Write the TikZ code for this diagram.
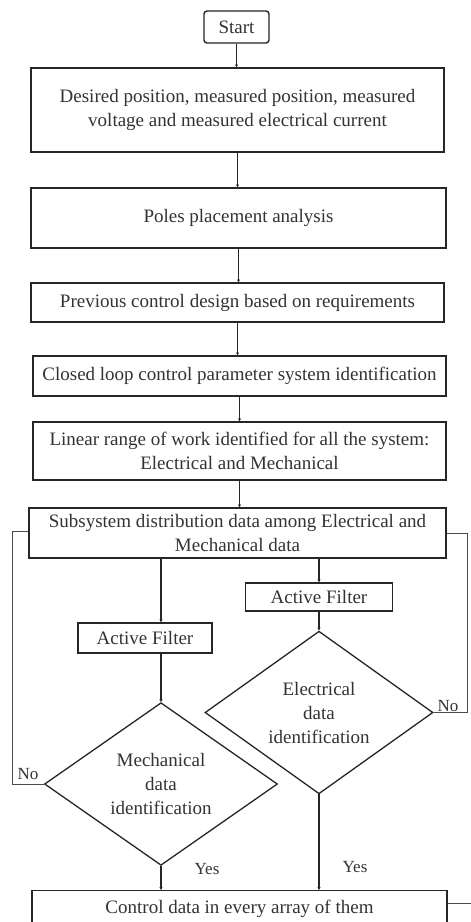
\documentclass[tikz,border=0pt]{standalone}
\usepackage{fontspec}
\setmainfont{Liberation Serif}
\usetikzlibrary{shapes.geometric,arrows.meta,calc}
\begin{document}
\begin{tikzpicture}[x=1pt,y=-1pt,
  every node/.style={font=\fontsize{19}{24}\selectfont, text=black!80},
  box/.style={draw=black!85, line width=1.4pt, inner sep=0pt, align=center},
  dec/.style={draw=black!85, line width=1.3pt, diamond, inner sep=0pt, align=center},
  arr/.style={draw=black!85, line width=1.3pt, -{Stealth[length=3pt,width=3pt]}},
  loopline/.style={draw=black!70, line width=0.8pt},
  lbl/.style={font=\fontsize{17}{20}\selectfont}]
\useasboundingbox (0,0) rectangle (471,922);
\fill[white] (0,0) rectangle (471,922);
\node[box, rounded corners=3pt, minimum width=65pt, minimum height=32pt] (start) at (236.5,27) {Start};
\node[box, minimum width=413pt, minimum height=84pt] (b1) at (237.5,110) {Desired position, measured position, measured\\voltage and measured electrical current};
\node[box, minimum width=415pt, minimum height=60pt] (b2) at (238.5,218) {Poles placement analysis};
\node[box, minimum width=413pt, minimum height=39pt] (b3) at (237.5,302.5) {Previous control design based on requirements};
\node[box, minimum width=413pt, minimum height=40pt] (b4) at (239.5,376) {Closed loop control parameter system identification};
\node[box, minimum width=413pt, minimum height=58pt] (b5) at (239.5,451) {Linear range of work identified for all the system:\\Electrical and Mechanical};
\node[box, minimum width=417pt, minimum height=50pt] (b6) at (237.5,533) {Subsystem distribution data among Electrical and\\Mechanical data};
\node[box, minimum width=134pt, minimum height=30pt] (af1) at (145,638) {Active Filter};
\node[box, minimum width=147pt, minimum height=28pt] (af2) at (319,597) {Active Filter};
\node[dec, minimum width=233pt, minimum height=161pt] (d1) at (161,784) {Mechanical\\data\\identification};
\node[dec, minimum width=228pt, minimum height=161pt] (d2) at (319,712.5) {Electrical\\data\\identification};
\node[box, minimum width=415pt, minimum height=36pt, anchor=north] (b7) at (239.5,890) {Control data in every array of them};
\draw[arr] (start.south) -- (b1.north -| start.south);
\draw[arr] (b1.south) -- (b2.north -| b1.south);
\draw[arr] (b2.south) -- (b3.north -| b2.south);
\draw[arr] (b3.south) -- (b4.north -| b3.south);
\draw[arr] (b4.south) -- (b5.north -| b4.south);
\draw[arr] (b5.south) -- (b6.north -| b5.south);
\draw[arr] (b6.south -| d1.north) -- (af1.north -| d1.north);
\draw[arr] (af1.south -| d1.north) -- (d1.north);
\draw[arr] (b6.south -| af2.north) -- (af2.north);
\draw[arr] (af2.south) -- (d2.north);
\draw[arr] (d1.south) -- (b7.north -| d1.south);
\draw[arr] (d2.south) -- (b7.north -| d2.south);
\coordinate (lA) at (12,784);
\coordinate (lB) at (12,531);
\coordinate (rA) at (467,712.5);
\coordinate (rB) at (467,533);
\coordinate (stub) at (471,903);
\draw[loopline] (d1.west) -- (lA) -- (lB) -- (lB -| b6.west);
\draw[loopline] (d2.east) -- (rA) -- (rB) -- (rB -| b6.east);
\draw[loopline] (b7.east |- stub) -- (stub);
\node[lbl] (no1) at (28,774) {No};
\node[lbl] (no2) at (448,706) {No};
\node[lbl] (yes1) at (207,869) {Yes};
\node[lbl] (yes2) at (355,867) {Yes};
\end{tikzpicture}
\end{document}
